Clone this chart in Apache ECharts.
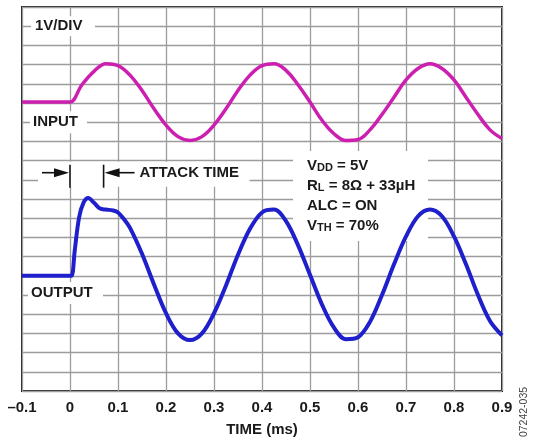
<!DOCTYPE html>
<html>
<head>
<meta charset="utf-8">
<script src="https://cdn.jsdelivr.net/npm/echarts@6/dist/echarts.min.js"></script>
<style>
  body { margin: 0; background: #fff; }
  #main { width: 533px; height: 442px; }
</style>
</head>
<body>
<div id="main"></div>
<script>
// time axis (ms) and tick labels
const timeTicks = [-0.1, 0, 0.1, 0.2, 0.3, 0.4, 0.5, 0.6, 0.7, 0.8, 0.9];

// INPUT trace, in divisions (1V/DIV)
const inputTime = [-0.1, -0.05, -0.0125, 0, 0.025, 0.05, 0.075, 0.1, 0.125, 0.15, 0.175, 0.2, 0.225, 0.25,
  0.275, 0.3, 0.325, 0.35, 0.375, 0.4, 0.425, 0.45, 0.475, 0.5, 0.525, 0.55, 0.575, 0.6, 0.625, 0.65,
  0.675, 0.7, 0.725, 0.75, 0.775, 0.8, 0.825, 0.85, 0.875, 0.9];
const inputVolts = [15.05, 15.05, 15.05, 15.05, 15.95, 16.65, 17.05, 16.95, 16.45, 15.65, 14.7, 13.85, 13.25, 13.05,
  13.25, 13.85, 14.7, 15.65, 16.45, 16.95, 17.05, 16.7, 15.95, 15.05, 14.1, 13.4, 13.05, 13.1, 13.6, 14.4,
  15.3, 16.2, 16.8, 17.05, 16.8, 16.2, 15.3, 14.4, 13.6, 13.15];

// OUTPUT trace
const outputTime = [-0.1, -0.05, 0, 0.0035, 0.01, 0.019, 0.028, 0.038, 0.05, 0.0625, 0.075, 0.09, 0.1, 0.1125,
  0.125, 0.15, 0.175, 0.2, 0.225, 0.25, 0.275, 0.3, 0.325, 0.35, 0.375, 0.4, 0.425, 0.45, 0.475, 0.5,
  0.525, 0.55, 0.575, 0.6, 0.625, 0.65, 0.675, 0.7, 0.725, 0.75, 0.775, 0.8, 0.825, 0.85, 0.875, 0.9];
const outputVolts = [6.0, 6.0, 6.0, 6.0, 7.35, 9.05, 9.8, 10.05, 9.8, 9.5, 9.45, 9.4, 9.3, 8.95,
  8.5, 7.15, 5.55, 4.05, 3.0, 2.65, 3.0, 4.05, 5.5, 7.1, 8.45, 9.3, 9.45, 8.85, 7.6, 6.05,
  4.5, 3.3, 2.7, 2.8, 3.6, 5.0, 6.6, 8.05, 9.1, 9.45, 9.1, 8.05, 6.6, 5.0, 3.65, 2.9];

const conditions = [
  ['V', 'DD', ' = 5V'],
  ['R', 'L', ' = 8Ω + 33µH'],
  ['ALC = ON', '', ''],
  ['V', 'TH', ' = 70%']
];

const FONT = "'Liberation Sans', Arial, sans-serif";
const chart = echarts.init(document.getElementById('main'));

const pair = (xs, ys) => xs.map((x, i) => [x, ys[i]]);

chart.setOption({
  animation: false,
  grid: { left: 22, right: 31, top: 7, bottom: 51, show: true, borderColor: '#222', borderWidth: 2, backgroundColor: 'transparent' },
  xAxis: {
    type: 'value',
    min: timeTicks[0],
    max: timeTicks[timeTicks.length - 1],
    interval: 0.1,
    name: 'TIME (ms)',
    nameLocation: 'middle',
    nameGap: 31,
    nameTextStyle: { fontFamily: FONT, fontWeight: 'bold', fontSize: 15, color: '#1a1a1a' },
    axisLine: { show: false },
    axisTick: { show: false },
    axisLabel: {
      margin: 9,
      fontFamily: FONT, fontWeight: 'bold', fontSize: 15, color: '#1a1a1a',
      formatter: (v) => {
        if (Math.abs(v) < 1e-9) return '0';
        return v < 0 ? '–' + Math.abs(v).toFixed(1) : v.toFixed(1);
      }
    },
    splitLine: { show: true, lineStyle: { color: '#9c9c9c', width: 1.3 } }
  },
  yAxis: {
    type: 'value',
    min: 0,
    max: 20,
    interval: 1,
    axisLine: { show: false },
    axisTick: { show: false },
    axisLabel: { show: false },
    splitLine: { show: true, lineStyle: { color: '#9c9c9c', width: 1.3 } }
  },
  series: [
    {
      name: 'INPUT',
      type: 'line',
      data: pair(inputTime, inputVolts),
      showSymbol: false,
      smooth: 0.4,
      lineStyle: { color: '#cc1fb0', width: 3.5 },
      z: 3
    },
    {
      name: 'OUTPUT',
      type: 'line',
      data: pair(outputTime, outputVolts),
      showSymbol: false,
      smooth: 0.35,
      lineStyle: { color: '#1f1fcc', width: 4 },
      z: 3
    }
  ]
});

// annotations, anchored to data coordinates
const px = (t, v) => chart.convertToPixel({ gridIndex: 0 }, [t, v]);
const txt = (x, y, text, extra) => Object.assign({
  type: 'text', z: 1,
  style: { x, y, text, font: 'bold 15px ' + FONT, fill: '#1a1a1a', textAlign: 'left', align: 'left', textVerticalAlign: 'middle', verticalAlign: 'middle' }
}, extra || {});
const box = (x, y, w, h) => ({ type: 'rect', z: 1, shape: { x, y, width: w, height: h }, style: { fill: '#fff' } });
const seg = (x1, y1, x2, y2) => ({ type: 'line', z: 1, shape: { x1, y1, x2, y2 }, style: { stroke: '#111', lineWidth: 1.6 } });
const head = (pts) => ({ type: 'polygon', z: 1, shape: { points: pts }, style: { fill: '#111' } });

const left = px(-0.1, 0)[0];
const yDiv = px(0, 19)[1];
const yIn = px(0, 14)[1];
const yOut = px(0, 5)[1] - 2;
const [a0, yA] = px(0, 11.37);
const a1 = px(0.07, 0)[0];
const [cx, cy] = px(0.5, 12.5);

const elements = [
  box(left + 9, yDiv - 10, 64, 20), txt(left + 13, yDiv, '1V/DIV'),
  box(left + 8, yIn - 11, 57, 22), txt(left + 11, yIn, 'INPUT'),
  box(left + 6, yOut - 11, 75, 22), txt(left + 9, yOut, 'OUTPUT'),
  box(left + 16, yA - 11, a1 - left + 130, 25),
  seg(a0, yA - 8, a0, yA + 15), seg(a1, yA - 8, a1, yA + 15),
  seg(a0 - 28, yA, a0 - 10, yA), head([[a0 - 16, yA - 4.5], [a0 - 1, yA], [a0 - 16, yA + 4.5]]),
  seg(a1 + 10, yA, a1 + 31, yA), head([[a1 + 16, yA - 4.5], [a1 + 1, yA], [a1 + 16, yA + 4.5]]),
  txt(a1 + 36, yA, 'ATTACK TIME'),
  box(cx - 17, cy, 135, 90),
  {
    type: 'text', z: 1, rotation: Math.PI / 2, x: 524, y: 412,
    style: { text: '07242-035', font: '10.5px ' + FONT, fill: '#444', textAlign: 'center', align: 'center', textVerticalAlign: 'middle', verticalAlign: 'middle' }
  }
];

conditions.forEach((c, i) => {
  const rich = {
    m: { font: 'bold 15px ' + FONT, fill: '#1a1a1a', color: '#1a1a1a', lineHeight: 18, verticalAlign: 'bottom' },
    s: { font: 'bold 11px ' + FONT, fill: '#1a1a1a', color: '#1a1a1a', lineHeight: 2, verticalAlign: 'bottom' }
  };
  let t = '{m|' + c[0] + '}';
  if (c[1]) t += '{s|' + c[1] + '}';
  if (c[2]) t += '{m|' + c[2] + '}';
  const el = txt(cx - 3, cy + 13 + i * 20, t);
  el.style.rich = rich;
  elements.push(el);
});

chart.setOption({ graphic: { elements } });
</script>
</body>
</html>
